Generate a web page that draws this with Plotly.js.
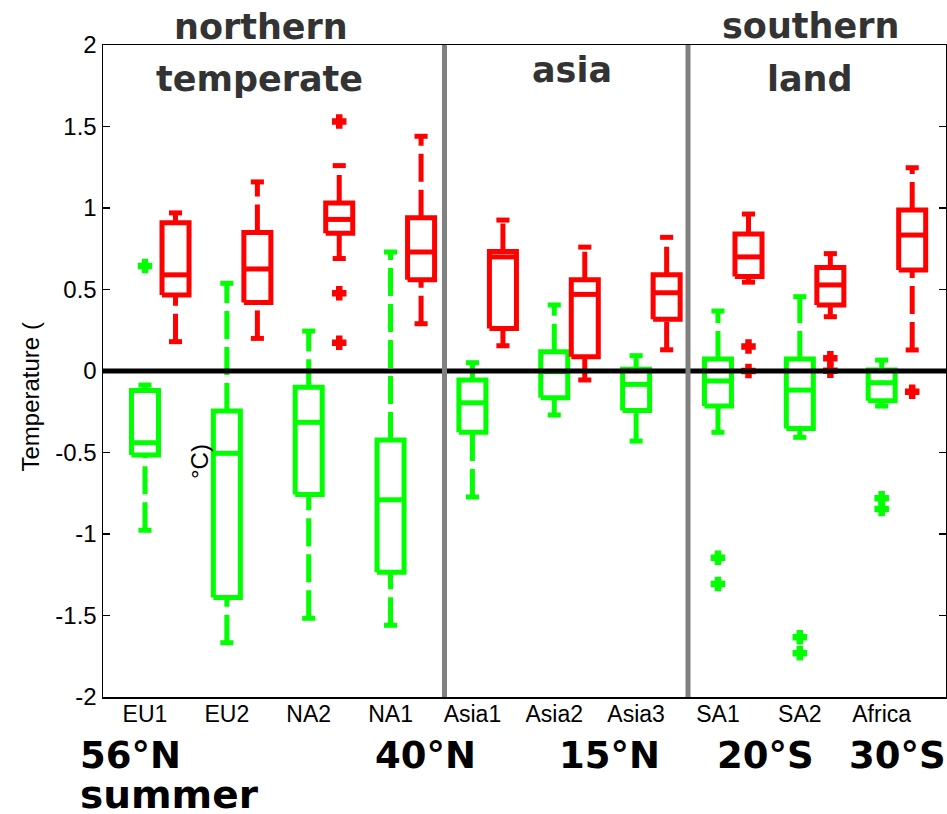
<!DOCTYPE html>
<html><head><meta charset="utf-8">
<script src="https://cdn.plot.ly/plotly-3.0.1.min.js"></script>
<style>html,body{margin:0;padding:0;background:#fff}#chart{width:947px;height:814px}</style>
</head><body><div id="chart"></div>
<script>
// ---- data ----
const regions = ["EU1","EU2","NA2","NA1","Asia1","Asia2","Asia3","SA1","SA2","Africa"];

const greenLo  = [-0.977,-1.667,-1.517,-1.56,-0.773,-0.27,-0.43,-0.376,-0.407,-0.215];
const greenQ1  = [-0.515,-1.39,-0.757,-1.235,-0.376,-0.164,-0.243,-0.215,-0.352,-0.182];
const greenMed = [-0.44,-0.505,-0.315,-0.79,-0.195,-0.004,-0.082,-0.061,-0.117,-0.072];
const greenQ3  = [-0.12,-0.245,-0.10,-0.423,-0.055,0.118,0.01,0.074,0.074,0.006];
const greenHi  = [-0.086,0.538,0.245,0.73,0.051,0.405,0.094,0.368,0.456,0.067];
const greenOutliers = [[0.644],[],[],[],[],[],[],[-1.145,-1.307],[-1.634,-1.732],[-0.78,-0.847]];

const redLo  = [0.18,0.20,0.69,0.29,0.155,-0.055,0.13,0.545,0.333,0.129];
const redQ1  = [0.466,0.42,0.845,0.56,0.26,0.088,0.317,0.58,0.405,0.62];
const redMed = [0.59,0.626,0.93,0.73,0.70,0.47,0.48,0.70,0.528,0.834];
const redQ3  = [0.91,0.85,1.03,0.94,0.733,0.56,0.59,0.84,0.635,0.988];
const redHi  = [0.97,1.16,1.26,1.44,0.926,0.76,0.82,0.963,0.72,1.247];
const redOutliers = [[],[],[1.53,0.477,0.174],[],[],[],[],[0.15,0.0],[0.078,0.002],[-0.127]];

const yTickVals = [-2,-1.5,-1,-0.5,0,0.5,1,1.5,2];
const yTickText = ["-2","-1.5","-1","-0.5","0","0.5","1","1.5","2"];

const regionHeaders = [["northern",0.1874,1.0275],["temperate",0.1862,0.9479],["asia",0.5563,0.9617],["southern",0.8387,1.0290],["land",0.8387,0.9479]];
const latLabels = [["56°N",-0.0297],["40°N",0.3203],["15°N",0.5386],["20°S",0.7260],["30°S",0.8830]];
const dividers = [3.659, 6.634];

// ---- layout constants ----
const redOffset = 0.373, boxHalf = 0.165, capHalf = 0.08;
const GREEN = "#00ff00", RED = "#ff0000";

function buildSeries(lo,q1,med,q3,hi,outs,offset,color){
  const bx=[],by=[],mx=[],my=[],wx=[],wy=[],cx=[],cy=[],ox=[],oy=[];
  regions.forEach((r,i)=>{
    const c=i+offset;
    bx.push(c-boxHalf,c+boxHalf,c+boxHalf,c-boxHalf,c-boxHalf,null);
    by.push(q1[i],q1[i],q3[i],q3[i],q1[i],null);
    mx.push(c-boxHalf,c+boxHalf,null); my.push(med[i],med[i],null);
    wx.push(c,c,null,c,c,null); wy.push(q3[i],hi[i],null,lo[i],q1[i],null);
    cx.push(c-capHalf,c+capHalf,null,c-capHalf,c+capHalf,null);
    cy.push(hi[i],hi[i],null,lo[i],lo[i],null);
    outs[i].forEach(v=>{ox.push(c);oy.push(v);});
  });
  const base={type:"scatter",mode:"lines",hoverinfo:"skip",showlegend:false,connectgaps:false};
  return [
    Object.assign({},base,{x:wx,y:wy,line:{color:color,width:5,dash:"28px,8px"}}),
    Object.assign({},base,{x:cx,y:cy,line:{color:color,width:5}}),
    Object.assign({},base,{x:bx,y:by,line:{color:color,width:5}}),
    Object.assign({},base,{x:mx,y:my,line:{color:color,width:5}}),
    {type:"scatter",mode:"markers",x:ox,y:oy,hoverinfo:"skip",showlegend:false,
     marker:{symbol:"cross",size:10,color:color,line:{color:color,width:2.5}}}
  ];
}

const traces = [].concat(
  buildSeries(greenLo,greenQ1,greenMed,greenQ3,greenHi,greenOutliers,0,GREEN),
  buildSeries(redLo,redQ1,redMed,redQ3,redHi,redOutliers,redOffset,RED)
);

const headFont = {family:"DejaVu Sans", size:35, color:"#333333"};
const latFont = {family:"DejaVu Sans", size:37, color:"#000000"};
const annotations = [];
regionHeaders.forEach(h=>annotations.push({text:"<b>"+h[0]+"</b>",xref:"paper",yref:"paper",x:h[1],y:h[2],xanchor:"center",yanchor:"middle",showarrow:false,font:headFont}));
latLabels.forEach(l=>annotations.push({text:"<b>"+l[0]+"</b>",xref:"paper",yref:"paper",x:l[1],y:-0.089,xanchor:"left",yanchor:"middle",showarrow:false,font:latFont}));
annotations.push({text:"<b>summer</b>",xref:"paper",yref:"paper",x:-0.0297,y:-0.1495,xanchor:"left",yanchor:"middle",showarrow:false,font:{family:"DejaVu Sans",size:39,color:"#000"}});
annotations.push({text:"Temperature (",xref:"paper",yref:"paper",x:-0.086,y:0.4601,xanchor:"center",yanchor:"middle",textangle:-90,showarrow:false,font:{family:"Liberation Sans",size:24,color:"#000"}});
annotations.push({text:"°C)",xref:"paper",yref:"paper",x:0.1139,y:0.3604,xanchor:"center",yanchor:"middle",textangle:-90,showarrow:false,font:{family:"Liberation Sans",size:24,color:"#000"}});

const shapes = [
  {type:"line",xref:"paper",x0:0,x1:1,yref:"y",y0:0,y1:0,line:{color:"#000",width:5},layer:"above"}
];
dividers.forEach(d=>shapes.push({type:"line",xref:"x",x0:d,x1:d,yref:"paper",y0:0,y1:1,line:{color:"#808080",width:5},layer:"above"}));

const layout = {
  width:947,height:814,
  margin:{l:103,r:1,t:45,b:117},
  paper_bgcolor:"#fff",plot_bgcolor:"#fff",
  showlegend:false,hovermode:false,
  xaxis:{range:[-0.513,9.786],tickmode:"array",tickvals:regions.map((r,i)=>i),ticktext:regions,
    showline:true,mirror:true,linecolor:"#000",linewidth:1.5,ticks:"",showgrid:false,zeroline:false,
    ticklabelstandoff:-4,
    tickfont:{family:"Liberation Sans",size:23,color:"#000"}},
  yaxis:{range:[-2,2],tickmode:"array",tickvals:yTickVals,ticktext:yTickText,
    showline:true,mirror:"ticks",linecolor:"#000",linewidth:1.5,ticks:"inside",ticklen:7,tickwidth:1.5,tickcolor:"#000",
    showgrid:false,zeroline:false,tickfont:{family:"Liberation Sans",size:24,color:"#000"}},
  annotations:annotations,
  shapes:shapes
};
Plotly.newPlot("chart",traces,layout,{staticPlot:true,displayModeBar:false});
</script></body></html>
